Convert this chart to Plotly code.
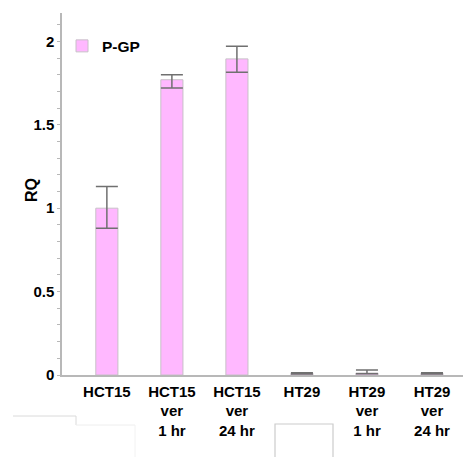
import plotly.graph_objects as go

categories = ["HCT15", "HCT15<br>ver<br>1 hr", "HCT15<br>ver<br>24 hr", "HT29", "HT29<br>ver<br>1 hr", "HT29<br>ver<br>24 hr"]
rq_values = [1.00, 1.77, 1.895, 0.01, 0.012, 0.01]
err_plus = [0.13, 0.03, 0.075, 0.004, 0.018, 0.004]
err_minus = [0.12, 0.05, 0.08, 0.004, 0.004, 0.004]
series_name = "P-GP"

font_family = "Liberation Sans, Arial, sans-serif"

# page body has an 8px margin; size the figure so it ends at the window edge
W, H = 463, 449
L, R, T, B = 54, 0, 5, 82
PW, PH = W - L - R, H - T - B

def px_x(sx):
    return (sx - 8 - L) / PW

def px_y(sy):
    return (H - B - (sy - 8)) / PH

fig = go.Figure()
fig.add_trace(go.Bar(
    x=list(range(len(categories))),
    y=rq_values,
    name=series_name,
    width=0.34,
    marker=dict(color="#FFB8FF", line=dict(color="#C8C0C8", width=1)),
    error_y=dict(type="data", symmetric=False, array=err_plus, arrayminus=err_minus,
                 color="#707070", thickness=1.5, width=11),
    showlegend=True,
))

fig.update_layout(
    width=W, height=H,
    margin=dict(l=L, r=R, t=T, b=B, autoexpand=False),
    paper_bgcolor="white", plot_bgcolor="white",
    font=dict(family=font_family, size=15, color="black"),
    showlegend=True,
    legend=dict(x=0.0, y=0.955, xanchor="left", yanchor="top",
                font=dict(family=font_family, size=15.5, color="black", weight="bold"),
                bgcolor="rgba(0,0,0,0)", itemwidth=30),
    xaxis=dict(
        range=[-0.69, 5.6], automargin=False,
        tickmode="array", tickvals=list(range(len(categories))), ticktext=["<b>" + c.replace("<br>", "</b><br><b>") + "</b>" for c in categories],
        showline=True, linecolor="#B8B8B8", linewidth=1.5,
        ticks="", showgrid=False, zeroline=False,
        tickfont=dict(family=font_family, size=15, color="black"),
        ticklabelstandoff=2,
    ),
    yaxis=dict(
        range=[0, 2.17], automargin=False,
        tickvals=[0, 0.5, 1, 1.5, 2], ticktext=["<b>0</b>", "<b>0.5</b>", "<b>1</b>", "<b>1.5</b>", "<b>2</b>"],
        showline=True, linecolor="#B8B8B8", linewidth=1.5,
        ticks="outside", ticklen=3, tickcolor="#B8B8B8",
        minor=dict(dtick=0.1, ticks="outside", ticklen=3, tickcolor="#B8B8B8", showgrid=False),
        showgrid=False, zeroline=False,
        tickfont=dict(family=font_family, size=15, color="black"),
        ticklabelstandoff=0,
    ),
)

fig.add_annotation(text="<b>RQ</b>", xref="paper", yref="paper", x=px_x(31), y=px_y(190),
                   textangle=-90, showarrow=False, xanchor="center", yanchor="middle",
                   font=dict(family=font_family, size=16, color="black"))

# faint page artifacts below the chart
line_style = dict(color="#DADADA", width=1)
fig.add_shape(type="line", xref="paper", yref="paper", x0=px_x(13), x1=px_x(76), y0=px_y(416), y1=px_y(416), line=line_style)
fig.add_shape(type="line", xref="paper", yref="paper", x0=px_x(76), x1=px_x(76), y0=px_y(416), y1=px_y(425), line=line_style)
fig.add_shape(type="line", xref="paper", yref="paper", x0=px_x(76), x1=px_x(135), y0=px_y(425), y1=px_y(425), line=dict(color="#EEEEEE", width=1))
fig.add_shape(type="line", xref="paper", yref="paper", x0=px_x(135), x1=px_x(135), y0=px_y(425), y1=px_y(457), line=dict(color="#F2F2F2", width=1))
fig.add_shape(type="rect", xref="paper", yref="paper", x0=px_x(275), x1=px_x(333), y0=px_y(424), y1=px_y(465), line=dict(color="#CCCCCC", width=1.2))

fig.write_html("out.html")
